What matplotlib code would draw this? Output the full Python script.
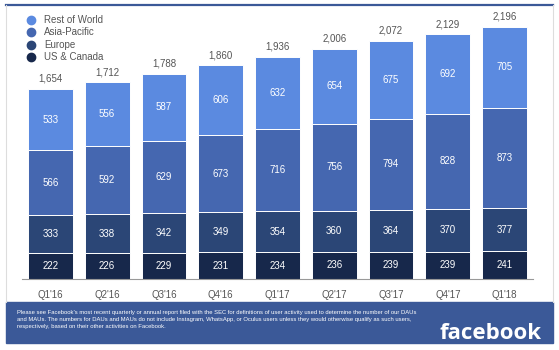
import matplotlib.pyplot as plt
from matplotlib.patches import Rectangle
from matplotlib.lines import Line2D

plt.rcParams['font.family'] = ['Liberation Sans', 'DejaVu Sans']

quarters = ["Q1'16", "Q2'16", "Q3'16", "Q4'16", "Q1'17", "Q2'17", "Q3'17", "Q4'17", "Q1'18"]
us_canada = [222, 226, 229, 231, 234, 236, 239, 239, 241]
europe = [333, 338, 342, 349, 354, 360, 364, 370, 377]
asia_pacific = [566, 592, 629, 673, 716, 756, 794, 828, 873]
rest_of_world = [533, 556, 587, 606, 632, 654, 675, 692, 705]
totals = [1654, 1712, 1788, 1860, 1936, 2006, 2072, 2129, 2196]

series = [("US & Canada", us_canada, "#17284b"),
          ("Europe", europe, "#2b4676"),
          ("Asia-Pacific", asia_pacific, "#4567b0"),
          ("Rest of World", rest_of_world, "#5b8ae0")]

W, H = 559, 350
fig = plt.figure(figsize=(W / 100, H / 100), dpi=100)

# card frame
fig.add_artist(Line2D([6 / W, 553 / W], [1 - 5 / H, 1 - 5 / H], color="#3b5998", lw=1.6))
for xp in (6, 553):
    fig.add_artist(Line2D([xp / W, xp / W], [1 - 302 / H, 1 - 5 / H], color="#dddddd", lw=0.8))

ax = fig.add_axes([22 / W, 71 / H, 511 / W, 274 / H])
ax.set_xlim(-0.5, 8.5)
ax.set_ylim(0, 2385)
for s in ["top", "right", "left"]:
    ax.spines[s].set_visible(False)
ax.spines["bottom"].set_color("#999999")
ax.spines["bottom"].set_linewidth(0.8)
ax.set_yticks([])
x = list(range(len(quarters)))
ax.set_xticks(x)
ax.set_xticklabels(quarters, fontsize=7, color="#555555")
ax.tick_params(axis="x", length=0, pad=8)

bottom = [0] * len(quarters)
for name, vals, col in series:
    ax.bar(x, vals, width=0.79, bottom=bottom, color=col, edgecolor="white", linewidth=0.7)
    for i, v in enumerate(vals):
        ax.text(i, bottom[i] + v / 2, str(v), ha="center", va="center", color="white", fontsize=7)
    bottom = [b + v for b, v in zip(bottom, vals)]

for i, t in enumerate(totals):
    ax.text(i, t + 45, f"{t:,}", ha="center", va="bottom", color="#555555", fontsize=7)

# legend
for k, (name, vals, col) in enumerate(reversed(series)):
    yy = 1 - (20 + 12.3 * k) / H
    fig.add_artist(Line2D([31 / W], [yy], marker="o", markersize=6, color=col, linestyle="none"))
    fig.text(44 / W, yy, name, ha="left", va="center", fontsize=7, color="#555555")

# footer
fig.add_artist(Rectangle((6 / W, 1 - 343 / H), 547 / W, 41 / H, color="#3b5998", transform=fig.transFigure))
footer = ("Please see Facebook's most recent quarterly or annual report filed with the SEC for definitions of user activity used to determine the number of our DAUs\n"
          "and MAUs. The numbers for DAUs and MAUs do not include Instagram, WhatsApp, or Oculus users unless they would otherwise qualify as such users,\n"
          "respectively, based on their other activities on Facebook.")
fig.text(17 / W, 1 - 310 / H, footer, ha="left", va="top", fontsize=4.2, color="white", linespacing=1.45)
fig.text(542 / W, 1 - 339 / H, "facebook", ha="right", va="baseline", fontsize=16,
         fontweight="bold", color="white", family=["Open Sans", "DejaVu Sans"])

fig.savefig("out.png", dpi=100)
